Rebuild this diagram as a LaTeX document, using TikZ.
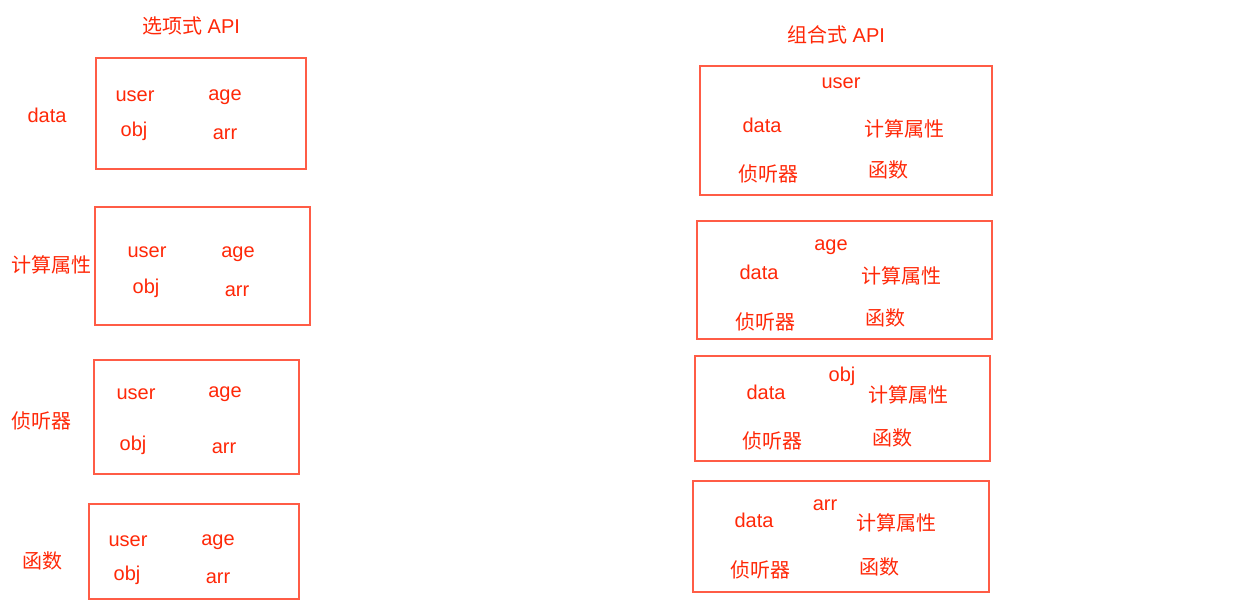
\documentclass[tikz,border=0pt]{standalone}
\usepackage{fontspec}
\setmainfont{Liberation Sans}
\newfontfamily\cjk{Noto Sans CJK SC}
\definecolor{txtred}{RGB}{255,40,8}
\definecolor{boxred}{RGB}{255,92,70}
\begin{document}
\begin{tikzpicture}[x=1pt,y=-1pt,
  lbl/.style={anchor=base,inner sep=0pt,text=txtred,font=\fontsize{20}{24}\selectfont},
  zh/.style={lbl,font=\fontsize{20}{24}\selectfont\cjk},
  box/.style={draw=boxred,line width=1.1pt}]
\useasboundingbox (0,0) rectangle (1248,605);
% titles
\node[lbl] (t1) at (191,33) {{\cjk 选项式} API};
\node[lbl] (t2) at (836,42) {{\cjk 组合式} API};
% left side labels
\node[lbl] (ld) at (47,122) {data};
\node[zh] (lc) at (52,272) {计算属性};
\node[zh] (lw) at (41,428) {侦听器};
\node[zh] (lf) at (42,568) {函数};
% left boxes
\draw[box] (96,58) rectangle (306,169);
\draw[box] (95,207) rectangle (310,325);
\draw[box] (94,360) rectangle (299,474);
\draw[box] (89,504) rectangle (299,599);
% left box 1
\node[lbl] (a1u) at (135,101) {user};
\node[lbl] (a1a) at (225,100) {age};
\node[lbl] (a1o) at (134,136) {obj};
\node[lbl] (a1r) at (225,139) {arr};
% left box 2
\node[lbl] (a2u) at (147,257) {user};
\node[lbl] (a2a) at (238,257) {age};
\node[lbl] (a2o) at (146,293) {obj};
\node[lbl] (a2r) at (237,296) {arr};
% left box 3
\node[lbl] (a3u) at (136,399) {user};
\node[lbl] (a3a) at (225,397) {age};
\node[lbl] (a3o) at (133,450) {obj};
\node[lbl] (a3r) at (224,453) {arr};
% left box 4
\node[lbl] (a4u) at (128,546) {user};
\node[lbl] (a4a) at (218,545) {age};
\node[lbl] (a4o) at (127,580) {obj};
\node[lbl] (a4r) at (218,583) {arr};
% right boxes
\draw[box] (700,66) rectangle (992,195);
\draw[box] (697,221) rectangle (992,339);
\draw[box] (695,356) rectangle (990,461);
\draw[box] (693,481) rectangle (989,592);
% right box 1
\node[lbl] (b1t) at (841,88) {user};
\node[lbl] (b1d) at (762,132) {data};
\node[zh] (b1c) at (904,136) {计算属性};
\node[zh] (b1w) at (768,181) {侦听器};
\node[zh] (b1f) at (888,177) {函数};
% right box 2
\node[lbl] (b2t) at (831,250) {age};
\node[lbl] (b2d) at (759,279) {data};
\node[zh] (b2c) at (901,283) {计算属性};
\node[zh] (b2w) at (765,329) {侦听器};
\node[zh] (b2f) at (885,325) {函数};
% right box 3
\node[lbl] (b3t) at (842,381) {obj};
\node[lbl] (b3d) at (766,399) {data};
\node[zh] (b3c) at (908,402) {计算属性};
\node[zh] (b3w) at (772,448) {侦听器};
\node[zh] (b3f) at (892,445) {函数};
% right box 4
\node[lbl] (b4t) at (825,510) {arr};
\node[lbl] (b4d) at (754,527) {data};
\node[zh] (b4c) at (896,530) {计算属性};
\node[zh] (b4w) at (760,577) {侦听器};
\node[zh] (b4f) at (879,574) {函数};
\end{tikzpicture}
\end{document}
